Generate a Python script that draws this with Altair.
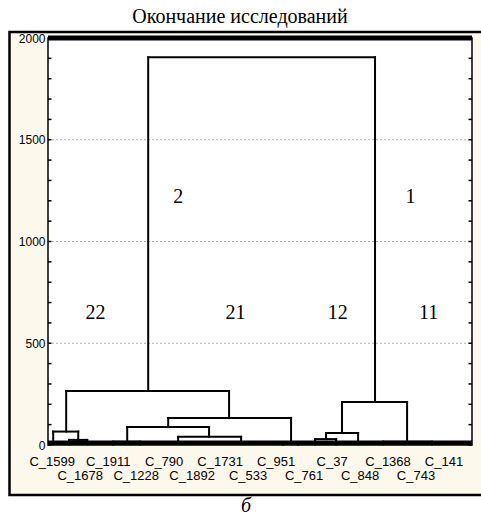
import altair as alt
import pandas as pd

# ---- dendrogram nodes: position along the leaf axis, linkage height, parent ----
node_id = ["root", "c2", "c1", "c22", "c21", "c22a", "c22b", "c22b1", "c22b2",
           "c21a", "c21b", "c21a1", "c21a2", "c21a1l", "c21a1r", "c21a2l", "c21a2r",
           "c21bl", "c21br", "c12", "c11", "c12a", "c12b", "c12al", "c12ar",
           "c11l", "c11r"]
node_x = [16.0, 7.86, 24.07, 2.0, 13.64, 1.07, 2.86, 2.21, 3.5,
          9.29, 18.07, 6.36, 12.21, 5.36, 7.29, 10.0, 14.5,
          17.5, 18.57, 21.71, 26.36, 20.57, 22.86, 19.79, 21.29,
          24.64, 28.14]
node_h = [1905, 265, 211, 66, 133, 4, 25, 3, 3,
          88, 10, 16, 40, 2, 2, 5, 5,
          2, 2, 59, 16, 29, 4, 3, 3,
          3, 3]
node_parent = [None, "root", "root", "c2", "c2", "c22", "c22", "c22b", "c22b",
               "c21", "c21", "c21a", "c21a", "c21a1", "c21a1", "c21a2", "c21a2",
               "c21b", "c21b", "c1", "c1", "c12", "c12", "c12a", "c12a",
               "c11", "c11"]

# ---- leaf labels (every second leaf is labelled) ----
leaf_labels = ["C_1599", "C_1678", "C_1911", "C_1228", "C_790", "C_1892", "C_1731",
               "C_533", "C_951", "C_761", "C_37", "C_848", "C_1368", "C_743", "C_141"]
leaf_pos = [1, 3, 5, 7, 9, 11, 13, 15, 17, 19, 21, 23, 25, 27, 29]

# ---- cluster numbers written inside the plot ----
cluster_text = ["2", "1", "22", "21", "12", "11"]
cluster_x = [10.0, 26.6, 4.1, 14.1, 21.4, 27.9]
cluster_y = [1219, 1219, 649, 649, 649, 649]

y_labels = [0, 500, 1000, 1500, 2000]
grid_vals = [500, 1000, 1500]
y_ticks = list(range(0, 2001, 100))

W, H = 424, 407
SANS = "Liberation Sans Narrow, Arial Narrow, Liberation Sans, sans-serif"
SERIF = "Liberation Serif, serif"
CREAM = "#fdf8ec"

# build line segments of the tree
pos = dict(zip(node_id, node_x))
hgt = dict(zip(node_id, node_h))
segs = []
children = {}
for nid, par in zip(node_id, node_parent):
    if par is None:
        continue
    children.setdefault(par, []).append(nid)
    segs.append({"x": pos[nid], "x2": pos[nid], "y": hgt[nid], "y2": hgt[par]})
for par, kids in children.items():
    xs = [pos[k] for k in kids]
    segs.append({"x": min(xs), "x2": max(xs), "y": hgt[par], "y2": hgt[par]})
seg_df = pd.DataFrame(segs)

xscale = alt.Scale(domain=[0.7, 31], nice=False, zero=False)
yscale = alt.Scale(domain=[0, 2000], nice=False, zero=True)

one = pd.DataFrame({"k": [0]})

frame = alt.Chart(one).mark_rect(fill=CREAM, stroke="black", strokeWidth=2.5).encode(
    x=alt.value(-38.5), x2=alt.value(W + 60), y=alt.value(-6), y2=alt.value(H + 50)
)
plot_bg = alt.Chart(one).mark_rect(fill="white").encode(
    x=alt.value(0), x2=alt.value(W), y=alt.value(0), y2=alt.value(H)
)

# y axis labels drawn above the filled background
axis_layer = alt.Chart(pd.DataFrame({"v": y_labels})).mark_rule(opacity=0).encode(
    y=alt.Y("v:Q", scale=yscale,
            axis=alt.Axis(values=y_labels, format="d", title=None, ticks=False,
                          domain=False, grid=False, labelFont=SANS, labelFontSize=12,
                          labelColor="black", labelPadding=3, zindex=1))
)

grid = alt.Chart(pd.DataFrame({"v": grid_vals})).mark_rule(
    color="#9a9a9a", strokeWidth=0.8, strokeDash=[2, 2]
).encode(y=alt.Y("v:Q", scale=yscale), x=alt.value(0), x2=alt.value(W))

tick_df = pd.DataFrame({"v": y_ticks})
ticks_left = alt.Chart(tick_df).mark_rule(color="black", strokeWidth=1.5).encode(
    y=alt.Y("v:Q", scale=yscale), x=alt.value(0), x2=alt.value(3.5)
)
ticks_right = alt.Chart(tick_df).mark_rule(color="black", strokeWidth=1.5).encode(
    y=alt.Y("v:Q", scale=yscale), x=alt.value(W - 3.5), x2=alt.value(W)
)

tree = alt.Chart(seg_df).mark_rule(color="black", strokeWidth=2, strokeCap="square").encode(
    x=alt.X("x:Q", scale=xscale, axis=None),
    x2="x2:Q",
    y=alt.Y("y:Q", scale=yscale),
    y2="y2:Q",
)

band = alt.Chart(one).mark_rect(color="black").encode(
    x=alt.value(0), x2=alt.value(W), y=alt.datum(0, scale=yscale), y2=alt.datum(22)
)
top_line = alt.Chart(one).mark_rule(color="black", strokeWidth=5).encode(
    x=alt.value(0), x2=alt.value(W), y=alt.datum(2000, scale=yscale)
)
border = alt.Chart(one).mark_rect(fillOpacity=0, stroke="black", strokeWidth=1.5).encode(
    x=alt.value(0), x2=alt.value(W), y=alt.value(0), y2=alt.value(H)
)

lab_df = pd.DataFrame({
    "label": leaf_labels,
    "pos": leaf_pos,
    "off": [21 if i % 2 == 0 else 35 for i in range(len(leaf_labels))],
})
leaf_text = alt.Chart(lab_df).mark_text(
    font=SANS, fontSize=13, color="black", baseline="alphabetic", align="center"
).encode(
    x=alt.X("pos:Q", scale=xscale),
    y=alt.datum(0, scale=yscale),
    yOffset=alt.YOffset("off:Q", scale=None),
    text="label:N",
)

clu_df = pd.DataFrame({"t": cluster_text, "x": cluster_x, "y": cluster_y})
clu_text = alt.Chart(clu_df).mark_text(
    font=SERIF, fontSize=20, color="black", baseline="middle", align="center"
).encode(
    x=alt.X("x:Q", scale=xscale),
    y=alt.Y("y:Q", scale=yscale),
    text="t:N",
)

title = alt.Chart(one).mark_text(
    text="Окончание исследований", font=SERIF, fontSize=20, color="black",
    baseline="middle", align="center"
).encode(x=alt.value(192), y=alt.value(-21))

sub = alt.Chart(one).mark_text(
    text="б", font=SERIF, fontSize=20, fontStyle="italic", color="black",
    baseline="alphabetic", align="center"
).encode(x=alt.value(198), y=alt.value(474))

chart = alt.layer(
    frame, plot_bg, grid, axis_layer, ticks_left, ticks_right, tree, band, top_line,
    border, leaf_text, clu_text, title, sub
).properties(
    width=W, height=H,
    autosize=alt.AutoSizeParams(type="none"),
    padding={"left": 48, "top": 38, "right": 9, "bottom": 73},
    background="white",
).configure_view(stroke=None)

chart.save("out.html", embed_options={"renderer": "svg", "actions": False})
